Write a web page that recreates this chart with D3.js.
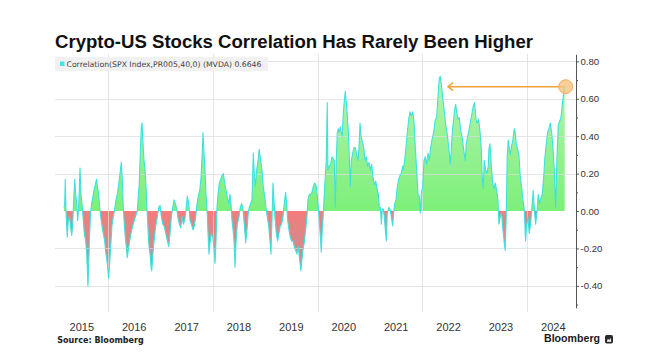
<!DOCTYPE html>
<html><head><meta charset="utf-8">
<script src="https://cdn.jsdelivr.net/npm/d3@7"></script>
<style>html,body{margin:0;padding:0;background:#fff;}svg{display:block;}</style>
</head><body>
<svg id="c" width="657" height="359"></svg>
<script>
const titleText = "Crypto-US Stocks Correlation Has Rarely Been Higher";
const legendText = "Correlation(SPX Index,PR005,40,0) (MVDA) 0.6646";
const sourceText = "Source: Bloomberg";
const brandText = "Bloomberg";
const yearLabels = [2015,2016,2017,2018,2019,2020,2021,2022,2023,2024];
const gridYears = [2016,2018,2020,2022,2024];
const yTicks = [-0.4,-0.2,0,0.2,0.4,0.6,0.8];
const yMinorTicks = [-0.5,-0.3,-0.1,0.1,0.3,0.5,0.7];
const arrowTipDate = 2022.49;

// dates as decimal years
const dates = [
2015.160,2015.174,2015.185,2015.198,2015.212,2015.223,2015.242,2015.261,2015.281,2015.307,2015.326,2015.345,2015.365,2015.384,2015.403,2015.422,2015.441,2015.466,2015.485,2015.504,2015.523,2015.548,2015.574,2015.594,2015.605,2015.618,2015.632,2015.651,2015.670,2015.689,2015.714,2015.739,2015.765,2015.784,2015.803,2015.823,2015.842,2015.861,2015.886,2015.910,2015.937,2015.962,2015.987,
2016.013,2016.032,2016.052,2016.076,2016.101,2016.128,2016.153,2016.178,2016.204,2016.229,2016.254,2016.273,2016.292,2016.311,2016.330,2016.349,2016.368,2016.387,2016.414,2016.439,2016.471,2016.502,2016.534,2016.559,2016.578,2016.597,2016.616,2016.636,2016.649,2016.668,2016.687,
2016.706,2016.725,2016.744,2016.763,2016.782,2016.802,2016.821,2016.834,2016.853,2016.878,2016.910,2016.941,2016.968,2016.992,
2017.017,2017.044,2017.069,2017.101,2017.132,2017.158,2017.183,2017.208,2017.235,2017.260,2017.284,2017.311,2017.336,2017.361,2017.387,2017.412,2017.437,2017.464,2017.489,2017.513,2017.540,2017.565,2017.590,2017.622,2017.647,2017.674,2017.698,2017.723,2017.750,2017.775,2017.794,2017.813,2017.832,2017.851,2017.870,2017.889,2017.908,2017.927,2017.947,2017.971,2017.998,
2018.023,2018.042,2018.061,2018.080,2018.099,2018.124,2018.151,2018.176,2018.200,2018.227,2018.252,2018.277,2018.303,2018.328,
2018.347,2018.366,2018.386,2018.405,2018.424,2018.443,2018.468,2018.500,2018.525,2018.552,2018.576,2018.601,2018.628,2018.653,2018.677,2018.697,2018.723,2018.748,2018.773,2018.792,2018.811,2018.838,2018.863,2018.887,2018.914,2018.939,2018.964,2018.990,
2019.015,2019.040,2019.067,2019.092,2019.111,2019.130,2019.149,2019.168,2019.187,2019.212,2019.239,2019.263,2019.288,2019.315,2019.340,2019.365,2019.391,2019.410,2019.429,2019.454,2019.479,2019.506,2019.531,2019.555,2019.582,2019.607,2019.632,2019.658,2019.683,2019.702,2019.721,2019.746,2019.773,2019.798,2019.817,2019.842,2019.868,2019.893,2019.918,2019.945,
2019.969,2019.994,2020.021,2020.040,2020.059,2020.071,2020.090,2020.109,2020.128,2020.147,2020.166,2020.185,2020.198,2020.223,2020.250,2020.275,2020.300,2020.319,2020.338,2020.357,2020.376,2020.395,2020.414,2020.433,2020.452,2020.471,2020.490,2020.510,2020.529,2020.548,2020.567,2020.586,2020.605,2020.624,2020.643,2020.670,2020.695,2020.719,2020.746,2020.771,2020.790,2020.809,2020.828,2020.853,2020.880,2020.905,2020.929,2020.956,2020.981,
2021.006,2021.032,2021.057,2021.082,2021.109,2021.134,2021.158,2021.178,2021.197,2021.216,2021.235,2021.254,2021.273,2021.292,2021.311,2021.330,2021.357,2021.382,2021.406,2021.433,2021.452,2021.471,2021.496,2021.521,2021.548,2021.573,2021.597,2021.624,
2021.635,2021.662,2021.687,2021.712,2021.739,2021.763,2021.788,2021.815,2021.840,2021.865,2021.891,2021.916,2021.941,2021.960,2021.979,
2022.006,2022.031,2022.055,2022.082,2022.107,2022.132,2022.158,2022.183,2022.216,2022.246,2022.273,2022.298,2022.323,2022.342,2022.361,2022.380,2022.406,2022.426,2022.445,2022.464,2022.489,2022.513,2022.532,2022.552,2022.571,2022.597,2022.616,2022.636,2022.660,2022.679,2022.704,2022.731,2022.756,2022.788,2022.819,2022.838,2022.865,2022.889,2022.914,2022.947,2022.971,2022.998,
2023.023,2023.048,2023.074,2023.099,2023.124,2023.143,2023.162,2023.181,2023.208,2023.233,2023.258,
2023.271,2023.290,2023.315,2023.342,2023.366,2023.391,2023.418,2023.443,2023.462,2023.487,2023.513,2023.538,2023.563,2023.582,2023.601,2023.620,2023.639,2023.658,2023.677,2023.704,2023.729,2023.754,2023.773,2023.792,2023.819,2023.844,2023.868,2023.895,2023.920,2023.945,2023.971,2023.990,
2024.015,2024.040,2024.067,2024.092,2024.116,2024.143,2024.162,2024.187,2024.212,2024.239,2024.263,2024.288,2024.315,2024.340,2024.365,2024.391,2024.416,2024.441,2024.468,2024.492,2024.517,2024.544,2024.569,2024.594,2024.620,2024.645,2024.670,2024.697,2024.716
];

const values = [
0.02,0.04,0.17,0.01,-0.08,-0.14,-0.05,-0.03,-0.07,-0.13,-0.08,0.06,0.17,0.09,0.04,-0.05,0.02,0.23,0.09,0.04,-0.03,-0.12,-0.16,-0.23,-0.30,-0.40,-0.28,-0.12,0.00,0.04,0.08,0.12,0.15,0.17,0.12,0.09,0.02,-0.03,-0.08,-0.12,-0.16,-0.23,-0.28,
-0.36,-0.28,-0.19,-0.08,-0.03,0.01,0.06,0.09,0.14,0.20,0.26,0.17,0.02,-0.07,-0.14,-0.19,-0.25,-0.21,-0.16,-0.12,-0.08,-0.05,-0.02,0.00,0.08,0.15,0.31,0.45,0.47,0.36,0.27,
0.22,0.13,0.01,-0.10,-0.19,-0.23,-0.30,-0.32,-0.24,-0.16,-0.08,-0.03,0.02,0.03,
-0.03,-0.07,-0.08,-0.12,-0.16,-0.19,-0.12,-0.03,0.02,0.06,0.04,0.01,-0.04,-0.07,-0.09,-0.03,-0.07,-0.05,0.01,0.08,0.04,-0.05,-0.07,-0.10,-0.08,-0.03,0.04,0.08,0.11,0.18,0.29,0.42,0.31,0.22,0.09,0.01,-0.12,-0.23,-0.17,-0.12,-0.14,
-0.20,-0.28,-0.16,0.02,0.09,0.15,0.17,0.19,0.20,0.15,0.11,0.07,0.04,0.09,
0.04,-0.05,-0.10,-0.16,-0.30,-0.17,-0.07,-0.03,0.02,0.04,0.01,-0.07,-0.17,-0.10,-0.01,0.02,0.04,0.06,0.31,0.20,0.13,0.22,0.27,0.33,0.27,0.22,0.13,0.08,
0.02,-0.03,-0.08,-0.16,-0.23,-0.05,0.15,0.06,-0.03,-0.12,-0.16,-0.12,-0.08,-0.07,-0.03,0.04,0.10,0.04,-0.05,-0.10,-0.14,-0.16,-0.16,-0.19,-0.21,-0.23,-0.19,-0.26,-0.32,-0.26,-0.21,-0.17,-0.10,-0.03,0.06,0.09,0.09,0.10,0.13,0.15,
0.14,0.09,-0.01,-0.08,-0.16,-0.22,-0.10,-0.02,0.09,0.18,0.27,0.58,0.22,0.24,0.25,0.29,0.28,0.27,0.02,0.27,0.42,0.44,0.42,0.45,0.42,0.40,0.52,0.59,0.64,0.58,0.51,0.43,0.29,0.13,0.27,0.31,0.34,0.34,0.30,0.27,0.34,0.47,0.40,0.37,0.34,0.27,0.29,0.24,0.26,
0.22,0.25,0.18,0.14,0.16,0.12,0.09,0.02,0.02,-0.07,0.01,0.01,-0.03,-0.10,-0.16,-0.01,0.02,0.01,-0.03,-0.08,-0.01,0.04,0.06,0.13,0.17,0.19,0.20,0.24,
0.22,0.27,0.34,0.42,0.49,0.53,0.51,0.53,0.48,0.34,0.22,0.09,0.08,-0.01,0.09,
0.13,0.27,0.29,0.25,0.31,0.27,0.34,0.38,0.42,0.49,0.50,0.61,0.71,0.72,0.68,0.63,0.56,0.52,0.46,0.43,0.38,0.31,0.25,0.33,0.42,0.49,0.54,0.57,0.52,0.49,0.50,0.43,0.40,0.33,0.27,0.36,0.40,0.43,0.47,0.52,0.56,0.58,
0.49,0.47,0.49,0.43,0.34,0.18,0.12,0.27,0.22,0.20,0.24,
0.33,0.36,0.25,0.15,0.12,0.15,0.11,0.06,-0.07,-0.03,-0.01,-0.10,-0.17,-0.21,-0.03,0.29,0.38,0.34,0.30,0.35,0.38,0.44,0.42,0.36,0.33,0.30,0.19,0.13,0.06,0.01,-0.16,-0.08,
-0.03,-0.12,-0.07,0.02,0.11,-0.01,-0.07,-0.01,0.09,0.04,0.07,0.09,0.18,0.29,0.36,0.42,0.44,0.47,0.42,0.34,0.22,0.02,0.29,0.46,0.48,0.50,0.57,0.63,0.6646
];

function toDate(t){
  const yr = Math.floor(t);
  const a = Date.UTC(yr,0,1), b = Date.UTC(yr+1,0,1);
  return new Date(a + (t-yr)*(b-a));
}
const data = dates.map((d,i)=>({date:toDate(d), value:values[i]}));

const svg = d3.select("#c");
const W = 657, H = 359;
svg.append("rect").attr("width",W).attr("height",H).attr("fill","#fff");

const plotLeft = 55, axisX = 576;
const x = d3.scaleUtc().domain([toDate(2015), toDate(2025)]).range([55.6, 579.6]);
const y = d3.scaleLinear().domain([-0.5, 0.85]).range([304.6, 52]);

function fit(sel, w){
  const cur = sel.node().getComputedTextLength();
  const fs = parseFloat(sel.attr("font-size"));
  if (cur > 0) sel.attr("font-size", (fs*w/cur).toFixed(2));
}

// gradient
const defs = svg.append("defs");
const gTop = y(0.75), gBot = y(-0.42);
const zOff = (y(0)-gTop)/(gBot-gTop);
const grad = defs.append("linearGradient").attr("id","fillGrad")
  .attr("gradientUnits","userSpaceOnUse").attr("x1",0).attr("x2",0).attr("y1",gTop).attr("y2",gBot);
grad.append("stop").attr("offset",0).attr("stop-color","#b8f2b2");
grad.append("stop").attr("offset",zOff).attr("stop-color","#7cf07a");
grad.append("stop").attr("offset",zOff).attr("stop-color","#f47c7c");
grad.append("stop").attr("offset",1).attr("stop-color","#ae9a9a");

// area
const area = d3.area().x(d=>x(d.date)).y0(y(0)).y1(d=>y(d.value));
svg.append("path").datum(data).attr("d",area).attr("fill","url(#fillGrad)");

// gridlines (drawn over the area, light)
const grid = svg.append("g").attr("stroke","#dcdcdc").attr("stroke-opacity",0.75).attr("stroke-width",1);
grid.selectAll("line.h").data(yTicks.filter(v=>v!==0)).join("line")
  .attr("x1",plotLeft).attr("x2",axisX).attr("y1",d=>Math.round(y(d))+0.5).attr("y2",d=>Math.round(y(d))+0.5);
grid.selectAll("line.v").data(gridYears).join("line")
  .attr("x1",d=>Math.round(x(toDate(d)))+0.5).attr("x2",d=>Math.round(x(toDate(d)))+0.5)
  .attr("y1",54).attr("y2",312);

// line
const line = d3.line().x(d=>x(d.date)).y(d=>y(d.value));
svg.append("path").datum(data).attr("d",line).attr("fill","none")
  .attr("stroke","#3de2de").attr("stroke-width",1.1).attr("stroke-linejoin","round");

// y axis
const axisG = svg.append("g").attr("transform",`translate(${axisX},0)`);
axisG.call(d3.axisRight(y).tickValues(yTicks).tickSize(3).tickSizeOuter(0).tickPadding(1.5).tickFormat(d=>d.toFixed(2)));
axisG.select(".domain").remove();
axisG.selectAll(".tick line").attr("stroke","#555");
axisG.selectAll(".tick text").attr("font-family","Liberation Sans, Arial, sans-serif").attr("font-size",9.6).attr("fill","#333");
const minorG = svg.append("g").attr("transform",`translate(${axisX},0)`);
minorG.call(d3.axisRight(y).tickValues(yMinorTicks).tickSize(2).tickSizeOuter(0).tickFormat(""));
minorG.select(".domain").remove();
minorG.selectAll(".tick line").attr("stroke","#555");
svg.append("line").attr("x1",axisX+0.5).attr("x2",axisX+0.5).attr("y1",y(0.835)).attr("y2",y(-0.52))
  .attr("stroke","#555").attr("stroke-width",1);

// annotation arrow
const last = data[data.length-1];
const ay = y(last.value);
const lx = x(last.date), tx = x(toDate(arrowTipDate));
svg.append("line").attr("x1",lx).attr("x2",tx).attr("y1",ay).attr("y2",ay)
  .attr("stroke","#eea33a").attr("stroke-width",1.5);
svg.append("polyline").attr("points",`${tx+5},${ay-4} ${tx},${ay} ${tx+5},${ay+4}`)
  .attr("fill","none").attr("stroke","#eea33a").attr("stroke-width",1.5);
svg.append("circle").attr("cx",lx+1).attr("cy",ay).attr("r",7)
  .attr("fill","#f7c27f").attr("fill-opacity",0.8).attr("stroke","#f0b060").attr("stroke-width",1);

// legend
svg.append("rect").attr("x",55).attr("y",57).attr("width",213).attr("height",14).attr("fill","#f1f1f1");
svg.append("rect").attr("x",60).attr("y",61.5).attr("width",4.5).attr("height",4.5).attr("fill","#3ee8e6");
const lt = svg.append("text").attr("x",66.5).attr("y",66.6).attr("font-family","DejaVu Sans, Verdana, sans-serif")
  .attr("font-size",7).attr("fill","#444").text(legendText);
fit(lt,195);

// title
const tt = svg.append("text").attr("x",55).attr("y",48.3).attr("font-family","Liberation Sans, Arial, sans-serif")
  .attr("font-weight","bold").attr("font-size",16).attr("fill","#111").text(titleText);
fit(tt,478);

// x labels
svg.append("g").selectAll("text").data(yearLabels).join("text")
  .attr("x",d=>x(toDate(d+0.5))).attr("y",330.7).attr("text-anchor","middle")
  .attr("font-family","Liberation Sans, Arial, sans-serif").attr("font-size",11).attr("fill","#333").text(d=>d);

// source
const st = svg.append("text").attr("x",57.3).attr("y",343).attr("font-family","DejaVu Sans, Verdana, sans-serif")
  .attr("font-weight","bold").attr("font-size",8.5).attr("fill","#222").text(sourceText);
fit(st,86.5);

// brand
const bt = svg.append("text").attr("x",544).attr("y",341.7).attr("font-family","Liberation Sans, Arial, sans-serif")
  .attr("font-weight","bold").attr("font-size",11.7).attr("fill","#1a1a1a").text(brandText);
fit(bt,56);
svg.append("rect").attr("x",605).attr("y",335).attr("width",8).attr("height",8.5).attr("rx",1.8).attr("fill","#2a2a2a");
svg.append("path").attr("d","M606.8,341.8 L608,338.5 L609.2,340.5 L610.4,337.8 L611.4,341.8 Z").attr("fill","#fff");
</script>
</body></html>
